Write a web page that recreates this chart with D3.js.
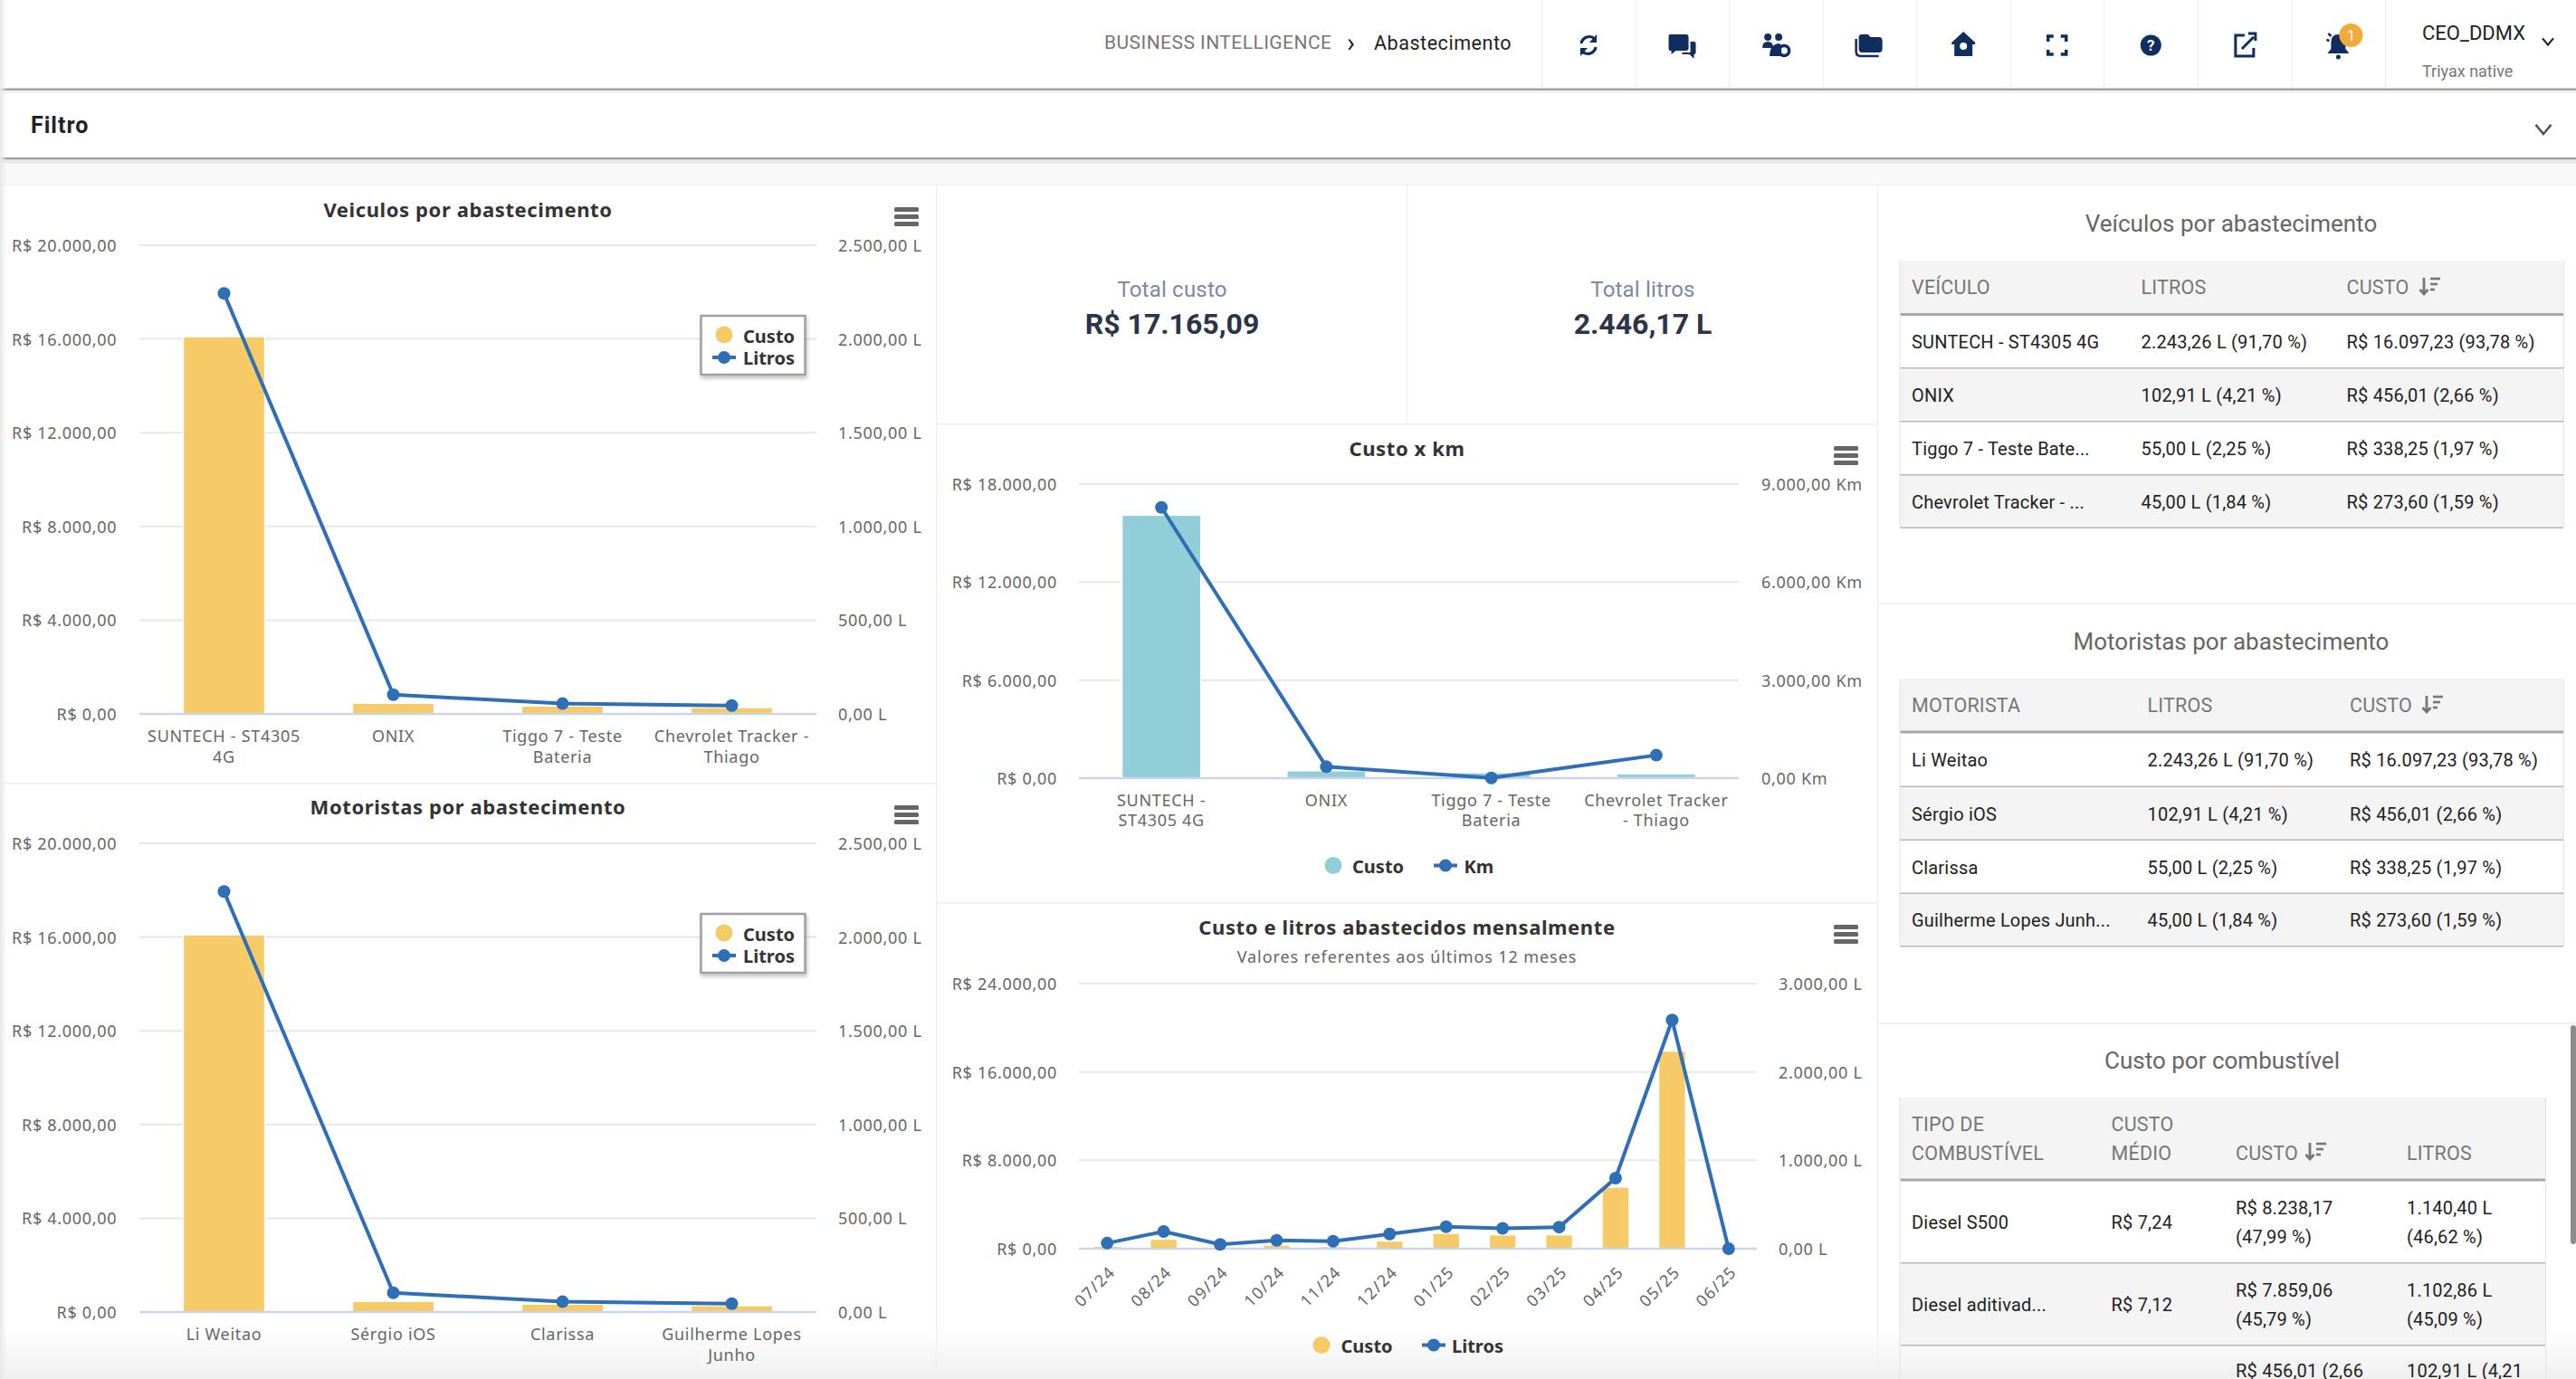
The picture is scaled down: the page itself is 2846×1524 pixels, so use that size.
<!DOCTYPE html>
<html><head><meta charset="utf-8">
<script src="https://cdnjs.cloudflare.com/ajax/libs/d3/7.8.5/d3.min.js"></script>
<style>html,body{margin:0;padding:0;background:#fff;overflow:hidden}svg{display:block}</style>
</head><body>
<svg id="page" width="2846" height="1524" viewBox="0 0 2846 1524"></svg>
<script>
// ---------- data ----------
const vehicleCats = [["SUNTECH - ST4305","4G"],["ONIX"],["Tiggo 7 - Teste","Bateria"],["Chevrolet Tracker -","Thiago"]];
const driverCats = [["Li Weitao"],["Sérgio iOS"],["Clarissa"],["Guilherme Lopes","Junho"]];
const kmCats = [["SUNTECH -","ST4305 4G"],["ONIX"],["Tiggo 7 - Teste","Bateria"],["Chevrolet Tracker","- Thiago"]];
const monthCats = ["07/24","08/24","09/24","10/24","11/24","12/24","01/25","02/25","03/25","04/25","05/25","06/25"].map(d=>[d]);
const costByVehicle = [16097.23,456.01,338.25,273.60];
const litersByVehicle = [2243.26,102.91,55.00,45.00];
const kmByVehicle = [8288,351,5,703];
const costByMonth = [230,865,30,335,195,698,1395,1256,1256,5581,17888,0];
const litersByMonth = [63,195,49,94,84,167,248,230,244,799,2588,0];
const costTicks20 = [0,4000,8000,12000,16000,20000];
const literTicks25 = [0,500,1000,1500,2000,2500];
const costTicks18 = [0,6000,12000,18000];
const kmTicks9 = [0,3000,6000,9000];
const costTicks24 = [0,8000,16000,24000];
const literTicks3 = [0,1000,2000,3000];
const vehicleHeader = ["VEÍCULO","LITROS","CUSTO"];
const vehicleRows = [
 ["SUNTECH - ST4305 4G","2.243,26 L (91,70 %)","R$ 16.097,23 (93,78 %)"],
 ["ONIX","102,91 L (4,21 %)","R$ 456,01 (2,66 %)"],
 ["Tiggo 7 - Teste Bate...","55,00 L (2,25 %)","R$ 338,25 (1,97 %)"],
 ["Chevrolet Tracker - ...","45,00 L (1,84 %)","R$ 273,60 (1,59 %)"]];
const driverHeader = ["MOTORISTA","LITROS","CUSTO"];
const driverRows = [
 ["Li Weitao","2.243,26 L (91,70 %)","R$ 16.097,23 (93,78 %)"],
 ["Sérgio iOS","102,91 L (4,21 %)","R$ 456,01 (2,66 %)"],
 ["Clarissa","55,00 L (2,25 %)","R$ 338,25 (1,97 %)"],
 ["Guilherme Lopes Junh...","45,00 L (1,84 %)","R$ 273,60 (1,59 %)"]];
const fuelRows = [
 [["Diesel S500"],["R$ 7,24"],["R$ 8.238,17","(47,99 %)"],["1.140,40 L","(46,62 %)"]],
 [["Diesel aditivad..."],["R$ 7,12"],["R$ 7.859,06","(45,79 %)"],["1.102,86 L","(45,09 %)"]],
 [[""],[""],["R$ 456,01 (2,66",""],["102,91 L (4,21",""]]];

// ---------- helpers ----------
const CHART_FONT = "'Noto Sans',sans-serif", UI_FONT = "Roboto,sans-serif";
const svg = d3.select("#page");
const defs = svg.append("defs");
const fade = defs.append("linearGradient").attr("id","fade").attr("x1",0).attr("x2",0).attr("y1",0).attr("y2",1);
fade.append("stop").attr("offset",0).attr("stop-color","#efefef").attr("stop-opacity",0);
fade.append("stop").attr("offset",1).attr("stop-color","#efefef").attr("stop-opacity",1);
const sideFade = defs.append("linearGradient").attr("id","sideFade");
sideFade.append("stop").attr("offset",0).attr("stop-color","#e8e8e8").attr("stop-opacity",1);
sideFade.append("stop").attr("offset",1).attr("stop-color","#e8e8e8").attr("stop-opacity",0);
const shadow = defs.append("filter").attr("id","legendShadow").attr("x","-20%").attr("y","-20%").attr("width","140%").attr("height","140%");
shadow.append("feDropShadow").attr("dx",1).attr("dy",3).attr("stdDeviation",2).attr("flood-color","#000").attr("flood-opacity",.25);

function T(g,x,y,s,o={}){
  return g.append("text").attr("x",x).attr("y",y).text(s)
    .attr("dominant-baseline","central")
    .attr("text-anchor",o.anchor||"start")
    .attr("font-family",o.font||CHART_FONT)
    .attr("font-size",o.size||18)
    .attr("font-weight",o.weight||400)
    .attr("letter-spacing",o.ls||0)
    .attr("fill",o.fill||"#666");
}
const R = (x,y,w,h,f)=>svg.append("rect").attr("x",x).attr("y",y).attr("width",w).attr("height",h).attr("fill",f);
const fmtBR = d3.formatLocale({decimal:",",thousands:".",grouping:[3],currency:["R$ ",""]}).format(",.2f");

// ---------- page chrome ----------
R(0,0,2846,1524,"#fff");
svg.append("rect").attr("x",0).attr("y",1470).attr("width",2846).attr("height",54).attr("fill","url(#fade)");
R(0,177,2846,28,"#f9f9f9");
R(0,204,2846,1,"#efefef");
R(0,97.5,2846,2.5,"#a3a3a3");
R(0,100,2846,3,"#f2f2f2");
R(0,174,2846,2.5,"#9c9c9c");
R(0,176.5,2846,4,"#e8e8e8");
T(svg,34,138,"Filtro",{size:25,weight:700,fill:"#222",font:UI_FONT,ls:1});
T(svg,1220,47,"BUSINESS INTELLIGENCE",{size:21,fill:"#777",font:UI_FONT,ls:.45});
T(svg,1488,46,"›",{size:30,fill:"#222",font:UI_FONT});
T(svg,1518,47,"Abastecimento",{size:21.5,fill:"#222",font:UI_FONT,ls:.55});
const cellEdges = d3.range(10).map(i=>1703+i*103.55);
cellEdges.forEach(x=>R(x,0,1,97,"#ededed"));
T(svg,2676,36,"CEO_DDMX",{size:22,fill:"#222",font:UI_FONT});
T(svg,2676,78,"Triyax native",{size:18,fill:"#777",font:UI_FONT});
const chev=(x,y,s,c,w)=>svg.append("path").attr("d",`M${x-s},${y-s*.6}L${x},${y+s*.6}L${x+s},${y-s*.6}`).attr("fill","none").attr("stroke",c).attr("stroke-width",w);
chev(2815,46,6,"#222",2.2);
chev(2810,143,8.5,"#555",2.5);

const NAVY="#0f2d5e";
const icon=(i,fn)=>{const g=svg.append("g").attr("transform",`translate(${1755+i*103.55},50)`);fn(g);};
icon(0,g=>{g.append("path").attr("d","M-8,-2A9,9 0 0 1 7,-7M8,2A9,9 0 0 1 -7,7").attr("fill","none").attr("stroke",NAVY).attr("stroke-width",3.2);
  g.append("path").attr("d","M9,-12V-3H1ZM-9,12V3H-1Z").attr("fill",NAVY);});
icon(1,g=>{g.append("path").attr("d","M-14,-12H4Q7,-12 7,-9V3Q7,6 4,6H-7L-12,10V6H-14Q-15,6 -15,3V-9Q-15,-12 -14,-12Z").attr("fill",NAVY);
  g.append("path").attr("d","M9,-4H13Q15,-4 15,-2V8Q15,10 13,10V15L8,10H0V8H9Z").attr("fill",NAVY);});
icon(2,g=>{[-9,3].forEach(x=>g.append("circle").attr("cx",x).attr("cy",-9).attr("r",4).attr("fill",NAVY));
  g.append("path").attr("d","M-15,3Q-15,-4 -9,-4Q-3,-4 -3,3ZM-7,12Q-7,0 2,-2Q6,-2 6,2V12Z").attr("fill",NAVY);
  g.append("circle").attr("cx",9).attr("cy",6).attr("r",5.5).attr("fill","none").attr("stroke",NAVY).attr("stroke-width",3.5);});
icon(3,g=>{g.append("path").attr("d","M-12,-9Q-12,-12 -9,-12H-2L1,-9H10Q14,-9 14,-5V4Q14,8 10,8H-8Q-12,8 -12,4Z").attr("fill",NAVY);
  g.append("path").attr("d","M-15,-7V7Q-15,12 -10,12H10").attr("fill","none").attr("stroke",NAVY).attr("stroke-width",2.5);});
icon(4,g=>{g.append("path").attr("d","M0,-15L13,-3V-1H10V12H-10V-1H-13V-3Z").attr("fill",NAVY);
  g.append("circle").attr("cx",0).attr("cy",1).attr("r",4).attr("fill","#fff");});
icon(5,g=>{g.append("path").attr("d","M-10,-4V-10H-4M4,-10H10V-4M10,5V10H4M-4,10H-10V5").attr("fill","none").attr("stroke",NAVY).attr("stroke-width",3.5);});
icon(6,g=>{g.append("circle").attr("r",11.5).attr("fill",NAVY);T(g,0,0,"?",{anchor:"middle",size:17,weight:700,fill:"#fff",font:UI_FONT});});
icon(7,g=>{g.append("path").attr("d","M0,-11H-10V12H10V3").attr("fill","none").attr("stroke",NAVY).attr("stroke-width",3);
  g.append("path").attr("d","M-3,4L10,-9M4,-13H12V-5").attr("fill","none").attr("stroke",NAVY).attr("stroke-width",3);});
icon(8,g=>{g.append("path").attr("d","M0,-12Q8,-12 8,-3V4L12,9H-12L-8,4V-3Q-8,-12 0,-12Z").attr("fill",NAVY);
  g.append("circle").attr("cy",13).attr("r",2.5).attr("fill",NAVY);
  g.append("path").attr("d","M-13,-6L-10,-5M-11,-13L-8,-10").attr("stroke",NAVY).attr("stroke-width",2.5);
  g.append("circle").attr("cx",14).attr("cy",-11).attr("r",13).attr("fill","#f0ab3c");
  T(g,14,-11,"1",{anchor:"middle",size:16,fill:"#fff",font:UI_FONT});});

// panel separators
R(1034,205,1,1319,"#efefef");
R(2074,205,1,1319,"#efefef");
R(1554,205,1,263,"#efefef");
R(1035,468,1039,1.5,"#efefef");
R(1035,997,1039,1.5,"#efefef");
R(0,865,1034,1.5,"#efefef");
R(2075,666,771,1.5,"#efefef");
R(2075,1130,771,1.5,"#efefef");

// KPIs
T(svg,1295,320,"Total custo",{anchor:"middle",size:24,fill:"#7b8aa3",font:UI_FONT,ls:.2});
T(svg,1295,358,"R$ 17.165,09",{anchor:"middle",size:32,weight:700,fill:"#2b3449",font:UI_FONT});
T(svg,1815,320,"Total litros",{anchor:"middle",size:24,fill:"#7b8aa3",font:UI_FONT,ls:.2});
T(svg,1815,358,"2.446,17 L",{anchor:"middle",size:32,weight:700,fill:"#2b3449",font:UI_FONT});

// ---------- combo charts ----------
function comboChart(c){
  const g = svg.append("g");
  const x = d3.scaleBand().domain(c.cats.map((_,i)=>i)).range([c.left,c.right]);
  const yL = d3.scaleLinear().domain([0,d3.max(c.leftTicks)]).range([c.bottom,c.top]);
  const yR = d3.scaleLinear().domain([0,d3.max(c.rightTicks)]).range([c.bottom,c.top]);
  g.selectAll(".grid").data(c.leftTicks.filter(t=>t>0)).join("line")
    .attr("x1",c.left).attr("x2",c.right).attr("y1",d=>yL(d)).attr("y2",d=>yL(d))
    .attr("stroke","#e8e8e8").attr("stroke-width",2);
  const axL = g.append("g").attr("transform",`translate(${c.labelL},0)`)
    .call(d3.axisLeft(yL).tickValues(c.leftTicks).tickSize(0).tickPadding(0).tickFormat(d=>"R$ "+fmtBR(d)));
  const axR = g.append("g").attr("transform",`translate(${c.labelR},0)`)
    .call(d3.axisRight(yR).tickValues(c.rightTicks).tickSize(0).tickPadding(0).tickFormat(d=>fmtBR(d)+" "+c.unit));
  [axL,axR].forEach(a=>{a.select(".domain").remove();
    a.selectAll("text").attr("font-family",CHART_FONT).attr("font-size",18).attr("letter-spacing",c.tickLs).attr("fill","#666").attr("dy",null).attr("dominant-baseline","central").attr("transform","translate(0,-0.5)");
    a.attr("font-family",null).attr("font-size",null);});
  const bw = x.bandwidth()*c.barRatio;
  g.selectAll(".bar").data(c.bars).join("rect")
    .attr("x",(d,i)=>x(i)+x.bandwidth()/2-bw/2)
    .attr("width",bw)
    .attr("y",d=>yL(d)).attr("height",d=>c.bottom-yL(d))
    .attr("fill",c.barColor).attr("stroke","#fff").attr("stroke-width",1.5);
  g.append("line").attr("x1",c.left).attr("x2",c.right).attr("y1",c.bottom).attr("y2",c.bottom).attr("stroke","#ccd6eb").attr("stroke-width",2.5);
  c.cats.forEach((lines,i)=>{
    const cx=x(i)+x.bandwidth()/2;
    if(c.rotate){
      g.append("text").text(lines[0])
       .attr("transform",`translate(${cx+5},${c.bottom+22}) rotate(-45)`)
       .attr("text-anchor","end").attr("dominant-baseline","central").attr("font-family",CHART_FONT).attr("font-size",18).attr("letter-spacing",1.3).attr("fill","#666");
    } else lines.forEach((s,k)=>T(g,cx,c.bottom+c.xY[k],s,{anchor:"middle",ls:c.tickLs}));
  });
  const line=d3.line().x((d,i)=>x(i)+x.bandwidth()/2).y(d=>yR(d));
  g.append("path").attr("d",line(c.line)).attr("fill","none").attr("stroke","#2f6fb7").attr("stroke-width",4).attr("stroke-linejoin","round");
  g.selectAll(".pt").data(c.line).join("circle").attr("cx",(d,i)=>x(i)+x.bandwidth()/2).attr("cy",d=>yR(d)).attr("r",7).attr("fill","#2f6fb7");
  T(g,c.titleX,c.titleY,c.title,{anchor:"middle",size:22,weight:700,fill:"#333",ls:.6});
  if(c.subtitle) T(g,c.titleX,c.titleY+33,c.subtitle,{anchor:"middle",size:18,fill:"#666",ls:.9});
  [0,8,16].forEach(d=>g.append("rect").attr("x",c.menuX).attr("y",c.menuY+d).attr("width",27).attr("height",5).attr("rx",1.5).attr("fill","#666"));
  const L=c.legend;
  if(L.box){
    g.append("rect").attr("x",L.x).attr("y",L.y).attr("width",115).attr("height",65).attr("fill","#fff").attr("stroke","#a0a0a0").attr("stroke-width",2.5).attr("filter","url(#legendShadow)");
    g.append("circle").attr("cx",L.x+25.5).attr("cy",L.y+21).attr("r",9.5).attr("fill",c.barColor);
    T(g,L.x+46.5,L.y+22.5,c.barName,{size:20,weight:700,fill:"#333"});
    g.append("line").attr("x1",L.x+12.5).attr("x2",L.x+38.5).attr("y1",L.y+46).attr("y2",L.y+46).attr("stroke","#2f6fb7").attr("stroke-width",4);
    g.append("circle").attr("cx",L.x+25.5).attr("cy",L.y+46).attr("r",7).attr("fill","#2f6fb7");
    T(g,L.x+46.5,L.y+46.5,c.lineName,{size:20,weight:700,fill:"#333"});
  } else {
    g.append("circle").attr("cx",L.cx1).attr("cy",L.y).attr("r",9.5).attr("fill",c.barColor);
    T(g,L.tx1,L.y+.5,c.barName,{size:20,weight:700,fill:"#333"});
    g.append("line").attr("x1",L.cx2-13).attr("x2",L.cx2+13).attr("y1",L.y).attr("y2",L.y).attr("stroke","#2f6fb7").attr("stroke-width",4);
    g.append("circle").attr("cx",L.cx2).attr("cy",L.y).attr("r",7).attr("fill","#2f6fb7");
    T(g,L.tx2,L.y+.5,c.lineName,{size:20,weight:700,fill:"#333"});
  }
}
const YEL="#f6ca66", TEAL="#92ced8";
const base={left:154,right:902,labelL:129.3,labelR:926,tickLs:.7,barRatio:.482,xY:[24,47],menuX:988};
comboChart({...base,cats:vehicleCats,bars:costByVehicle,line:litersByVehicle,leftTicks:costTicks20,rightTicks:literTicks25,unit:"L",top:271,bottom:789,barColor:YEL,
  title:"Veiculos por abastecimento",titleX:517,titleY:231,menuY:229,barName:"Custo",lineName:"Litros",legend:{box:true,x:774.5,y:349}});
comboChart({...base,cats:driverCats,bars:costByVehicle,line:litersByVehicle,leftTicks:costTicks20,rightTicks:literTicks25,unit:"L",top:932,bottom:1450,barColor:YEL,
  title:"Motoristas por abastecimento",titleX:517,titleY:891,menuY:890,barName:"Custo",lineName:"Litros",legend:{box:true,x:774.5,y:1010}});
const mid={left:1192,labelL:1168,tickLs:.7,barRatio:.478,xY:[24,46],menuX:2026};
comboChart({...mid,cats:kmCats,right:1921,labelR:1946,bars:costByVehicle,line:kmByVehicle,leftTicks:costTicks18,rightTicks:kmTicks9,unit:"Km",top:535,bottom:860,barColor:TEAL,
  title:"Custo x km",titleX:1554.5,titleY:495,menuY:493,barName:"Custo",lineName:"Km",legend:{y:956.5,cx1:1473,tx1:1494,cx2:1597,tx2:1617.5}});
comboChart({...mid,cats:monthCats,right:1941,labelR:1965,rotate:true,bars:costByMonth,line:litersByMonth,leftTicks:costTicks24,rightTicks:literTicks3,unit:"L",top:1087,bottom:1380,barColor:YEL,
  title:"Custo e litros abastecidos mensalmente",titleX:1554.5,titleY:1024,subtitle:"Valores referentes aos últimos 12 meses",menuY:1022,barName:"Custo",lineName:"Litros",legend:{y:1486.5,cx1:1460,tx1:1481.5,cx2:1584,tx2:1604}});

// ---------- tables ----------
const TS=20, TLS=0.2;
function sortIcon(x,y){
  const g=svg.append("g").attr("transform",`translate(${x},${y})`);
  g.append("path").attr("d","M0,-9V9M-4.5,4L0,9L4.5,4").attr("fill","none").attr("stroke","#777").attr("stroke-width",2.8);
  [[7,18,-8],[7,15,-2],[7,12,4]].forEach(([a,b,yy])=>g.append("line").attr("x1",a).attr("x2",b).attr("y1",yy).attr("y2",yy).attr("stroke","#777").attr("stroke-width",2.6));
}
function table(t){
  T(svg,t.titleX,t.titleY,t.title,{anchor:"middle",size:26,fill:"#666",font:UI_FONT});
  R(t.x0,t.top,t.x1-t.x0,t.headBottom-t.top,"#f4f4f4");
  t.rows.forEach((r,i)=>{ if(i%2) R(t.x0,t.lines[i],t.x1-t.x0,t.lines[i+1]-t.lines[i],"#f4f4f4"); });
  t.header.forEach((h,i)=>h.forEach((s,k)=>T(svg,t.cols[i],t.headY[h.length-1][k],s,{size:21.5,fill:"#777",ls:TLS,font:UI_FONT})));
  sortIcon(t.sortX,t.sortY);
  R(t.x0+1,t.headBottom-1.5,t.x1-t.x0-2,3,"#a8a8a8");
  t.lines.slice(1).forEach(y=>R(t.x0+1,y-.5,t.x1-t.x0-2,1.5,"#b8b8b8"));
  R(t.x0,t.top,1,(t.lines[t.rows.length]||1524)-t.top,"#e4e4e4");
  R(t.x1-1,t.top,1,(t.lines[t.rows.length]||1524)-t.top,"#e4e4e4");
  t.rows.forEach((r,i)=>r.forEach((cell,j)=>{
    const lines=Array.isArray(cell)?cell:[cell];
    const cy=(t.lines[i]+t.lines[i+1])/2+1;
    lines.forEach((s,k)=>T(svg,t.cols[j],lines.length>1?cy+(k-.5)*32:cy,s,{size:TS,fill:"#222",ls:TLS,font:UI_FONT}));
  }));
}
table({title:"Veículos por abastecimento",titleX:2465,titleY:247,x0:2098.5,x1:2833,top:288,headBottom:347.5,lines:[347.5,406.5,465.5,524.5,583],cols:[2112,2365.5,2592.5],
  header:[[vehicleHeader[0]],[vehicleHeader[1]],[vehicleHeader[2]]],headY:[[317.5]],rows:vehicleRows,sortX:2678,sortY:316});
table({title:"Motoristas por abastecimento",titleX:2465,titleY:709,x0:2098.5,x1:2833,top:750,headBottom:809,lines:[809,869,928,987,1045.5],cols:[2112,2372.5,2596],
  header:[[driverHeader[0]],[driverHeader[1]],[driverHeader[2]]],headY:[[779]],rows:driverRows,sortX:2681,sortY:778});
table({title:"Custo por combustível",titleX:2455,titleY:1172,x0:2098.5,x1:2813,top:1213,headBottom:1304,lines:[1304,1395.5,1486.5,1574],cols:[2112,2332.5,2470,2659],
  header:[["TIPO DE","COMBUSTÍVEL"],["CUSTO","MÉDIO"],["","CUSTO"],["","LITROS"]],headY:[[1274],[1242.5,1274]],rows:fuelRows,sortX:2552,sortY:1272});

// scrollbar + edge shade
svg.append("rect").attr("x",2840).attr("y",1133).attr("width",6).attr("height",242).attr("rx",3).attr("fill","#8c8c8c");
svg.append("rect").attr("x",0).attr("y",0).attr("width",8).attr("height",1524).attr("fill","url(#sideFade)");
</script>
</body></html>
